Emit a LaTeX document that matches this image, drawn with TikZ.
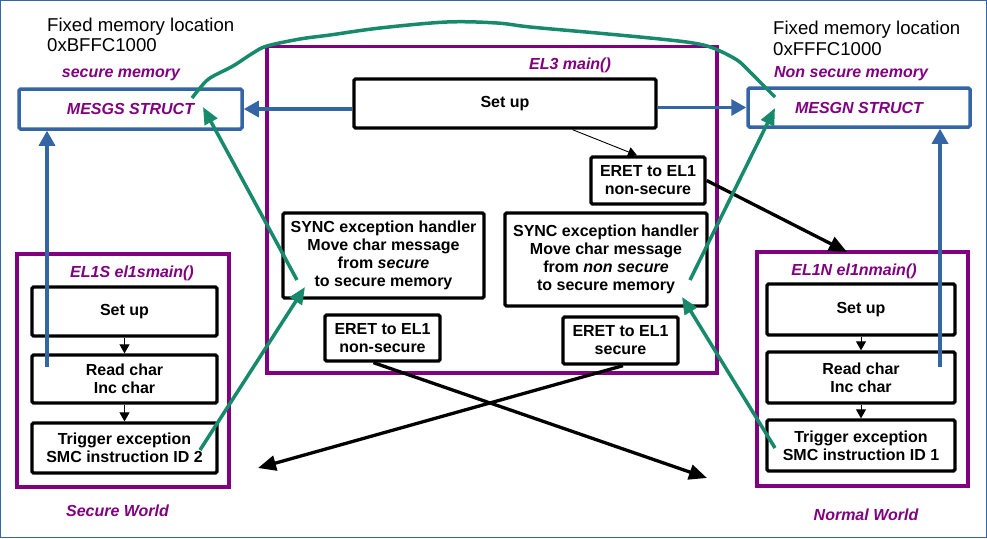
\documentclass[tikz,border=0pt]{standalone}
\usepackage{fontspec}
\setmainfont{Liberation Sans}
\usetikzlibrary{arrows.meta}
\definecolor{mblue}{HTML}{3465A4}
\definecolor{mpurple}{HTML}{800080}
\definecolor{mgreen}{HTML}{168A6B}
\newcommand\fsA{\fontsize{16}{18}\selectfont}
\newcommand\fsB{\fontsize{18.6}{20.5}\selectfont}
\begin{document}
\begin{tikzpicture}[x=1pt,y=-1pt,
  bbox/.style={draw=black, line width=3.3pt, rounded corners=1.5pt, inner sep=0pt, align=center, font=\bfseries\fsA},
  pbox/.style={draw=mpurple, line width=3.3pt, inner sep=0pt},
  mbox/.style={draw=mblue, line width=3.5pt, rounded corners=1.5pt, inner sep=0pt, font=\bfseries\itshape\fsA, text=mpurple},
  ptext/.style={text=mpurple, font=\bfseries\itshape\fsA, inner sep=0pt},
  memtext/.style={font=\fsB, align=left, inner sep=0pt},
  barrow/.style={draw=mblue, line width=3.3pt, -{Triangle[length=15pt,width=16pt]}},
  garrow/.style={draw=mgreen, line width=3.5pt, -{Triangle[length=17pt,width=14pt]}},
  gline/.style={draw=mgreen, line width=3.5pt},
  karrow/.style={draw=black, line width=3.3pt, -{Triangle[length=18pt,width=15pt]}},
  tarrow/.style={draw=black, line width=0.9pt, -{Triangle[length=9pt,width=10pt]}}
]
\useasboundingbox (0,0) rectangle (987,538);
\draw[mblue, line width=1.2pt] (0.6,0.6) rectangle (986.4,537.4);

% memory labels
\node[memtext, anchor=north west] (fixS) at (47,17.5) {Fixed memory location\\0xBFFC1000};
\node[memtext, anchor=north west] (fixN) at (773,21) {Fixed memory location\\0xFFFC1000};
\node[ptext] (secmem) at (121,75) {secure memory};
\node[ptext] (nsmem) at (851,74) {Non secure memory};

\node[mbox, minimum width=223, minimum height=40] (mesgs) at (130.5,109) {MESGS STRUCT};
\node[mbox, minimum width=222, minimum height=39] (mesgn) at (859,107.5) {MESGN STRUCT};

% EL3
\node[pbox, minimum width=450, minimum height=326.5] (el3) at (492,209.75) {};
\node[ptext] (el3t) at (570,65) {EL3 main()};
\node[bbox, minimum width=302, minimum height=49] (setup3) at (505,103.5) {Set up};
\node[bbox, minimum width=114, minimum height=47] (eretA) at (648,180.5) {ERET to EL1\\non-secure};
\node[bbox, minimum width=201, minimum height=85] (syncL) at (383.5,255.5) {SYNC exception handler\\Move char message\\from \textit{secure}\\to secure memory};
\node[bbox, minimum width=202, minimum height=93] (syncR) at (606,259.5) {SYNC exception handler\\Move char message\\from \textit{non secure}\\to secure memory};
\node[bbox, minimum width=115, minimum height=46] (eretB) at (382.5,338) {ERET to EL1\\non-secure};
\node[bbox, minimum width=115, minimum height=47] (eretC) at (620.5,340.5) {ERET to EL1\\secure};

% EL1S
\node[pbox, minimum width=212, minimum height=233] (el1s) at (123,370.5) {};
\node[ptext] (el1st) at (132,273) {EL1S el1smain()};
\node[bbox, minimum width=185, minimum height=49] (setupS) at (124.5,311.5) {Set up};
\node[bbox, minimum width=185, minimum height=48] (readS) at (124.5,379) {Read char\\Inc char};
\node[bbox, minimum width=185, minimum height=50] (trigS) at (124.5,448) {Trigger exception\\SMC instruction ID 2};
\node[ptext] (secw) at (117.5,511) {Secure World};

% EL1N
\node[pbox, minimum width=211, minimum height=234] (el1n) at (862.5,369) {};
\node[ptext] (el1nt) at (854,271) {EL1N el1nmain()};
\node[bbox, minimum width=188, minimum height=51] (setupN) at (861,309.5) {Set up};
\node[bbox, minimum width=188, minimum height=51] (readN) at (861,377.5) {Read char\\Inc char};
\node[bbox, minimum width=188, minimum height=51] (trigN) at (861,445.5) {Trigger exception\\SMC instruction ID 1};
\node[ptext] (norw) at (866,515) {Normal World};

% coordinates for free ends
\coordinate (bsS) at (47,367);
\coordinate (bsN) at (940,367);
\coordinate (g1s) at (297,280); \coordinate (g1e) at (203,107);
\coordinate (g2s) at (200,450); \coordinate (g2e) at (305,287);
\coordinate (g3s) at (690,280); \coordinate (g3e) at (775,108);
\coordinate (g4s) at (775,448); \coordinate (g4e) at (682,297);
\coordinate (c1) at (192,98); \coordinate (c2) at (775,97);
\coordinate (k1e) at (847,252);
\coordinate (k2e) at (707,478);
\coordinate (k3e) at (258,468);

% thin arrows
\draw[tarrow] (setupS.south) -- (readS.north);
\draw[tarrow] (readS.south) -- (trigS.north);
\draw[tarrow] (setupN.south) -- (readN.north);
\draw[tarrow] (readN.south) -- (trigN.north);
\draw[tarrow] ([xshift=67.5pt]setup3.south) -- ([xshift=-11pt]eretA.north);

% blue arrows
\draw[barrow] (setup3.west |- mesgs.east) -- (mesgs.east);
\draw[barrow] (setup3.east |- mesgn.west) -- (mesgn.west);
\draw[barrow] (bsS) -- (bsS |- mesgs.south);
\draw[barrow] (bsN) -- (bsN |- mesgn.south);

% black thick arrows
\draw[karrow] (eretA.east) -- (k1e);
\draw[karrow] ([xshift=-9pt]eretB.south) -- (k2e);
\draw[karrow] ([xshift=2.5pt]eretC.south) -- (k3e);

% green arrows
\draw[garrow] (g1s) -- (g1e);
\draw[garrow] (g2s) -- (g2e);
\draw[garrow] (g3s) -- (g3e);
\draw[garrow] (g4s) -- (g4e);
\draw[gline] plot[smooth, tension=0.55] coordinates {(c1) (200,88) (210,78) (233,66) (253,53) (267,46) (300,39) (330,35) (380,28) (447,22) (497,23) (530,27) (597,33) (660,39) (693,43) (713,48) (737,60) (750,72) (760,82) (c2)};
\end{tikzpicture}
\end{document}
